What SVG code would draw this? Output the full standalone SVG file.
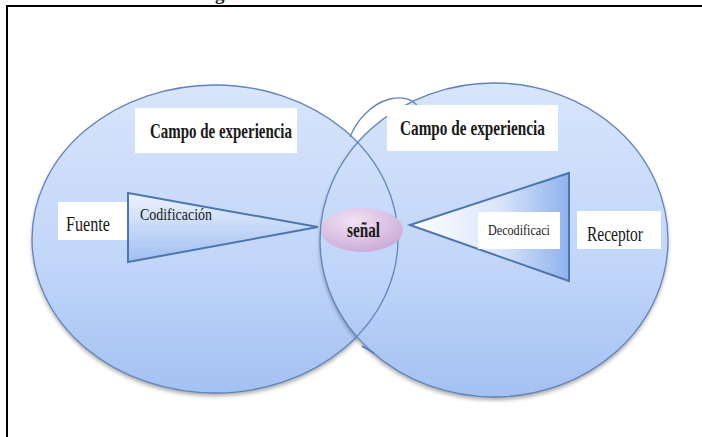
<svg xmlns="http://www.w3.org/2000/svg" width="702" height="437" viewBox="0 0 702 437">
<defs>
  <linearGradient id="gCircle" x1="0" y1="0" x2="0" y2="1">
    <stop offset="0" stop-color="#d8e5fb"/>
    <stop offset="0.6" stop-color="#c0d5f9"/>
    <stop offset="1" stop-color="#a3c1f2"/>
  </linearGradient>
  <linearGradient id="gTriL" x1="0" y1="0" x2="0" y2="1">
    <stop offset="0" stop-color="#eef3fd"/>
    <stop offset="1" stop-color="#9ebef2"/>
  </linearGradient>
  <linearGradient id="gTriR" x1="0" y1="0" x2="1" y2="0">
    <stop offset="0" stop-color="#ffffff"/>
    <stop offset="0.55" stop-color="#dbe6fb"/>
    <stop offset="1" stop-color="#8fb2ee"/>
  </linearGradient>
  <radialGradient id="gSig" cx="0.4" cy="0.3" r="0.8">
    <stop offset="0" stop-color="#f1e3f4"/>
    <stop offset="1" stop-color="#c8a4d4"/>
  </radialGradient>
  <filter id="shadow" x="-10%" y="-10%" width="120%" height="125%">
    <feGaussianBlur in="SourceAlpha" stdDeviation="2"/>
    <feOffset dx="0" dy="3" result="b"/>
    <feComponentTransfer><feFuncA type="linear" slope="0.35"/></feComponentTransfer>
    <feMerge><feMergeNode/><feMergeNode in="SourceGraphic"/></feMerge>
  </filter>
  <style>
    .outline { fill: none; stroke: #6184bb; stroke-width: 1.3; }
    .tri { stroke: #4d76ae; stroke-width: 2; stroke-linejoin: miter; }
    .box { fill: #ffffff; }
    .serif { font-family: "Liberation Serif", "Times New Roman", serif; fill: #1a1a1a; }
    .bold { font-weight: bold; }
  </style>
</defs>

<rect width="702" height="437" fill="#ffffff"/>

<!-- frame -->
<g id="frame">
  <text class="serif bold" x="198" y="-0.5" font-size="19">Figura 3. Modelo de Schramm</text>
  <line x1="7" y1="6" x2="702" y2="6" stroke="#000" stroke-width="2"/>
  <line x1="7" y1="5" x2="7" y2="437" stroke="#000" stroke-width="2"/>
</g>

<!-- fields of experience -->
<g id="campo-izq">
  <ellipse cx="215" cy="239" rx="183" ry="154" fill="url(#gCircle)" filter="url(#shadow)"/>
</g>
<g id="campo-der">
  <ellipse cx="494" cy="240" rx="174" ry="157" fill="url(#gCircle)" filter="url(#shadow)"/>
</g>
<g id="outlines">
  <ellipse class="outline" cx="215" cy="239" rx="183" ry="154"/>
  <ellipse class="outline" cx="494" cy="240" rx="174" ry="157"/>
  <path class="outline" d="M350,137 C356,122 370,104 390,99 C402,96 413,99 418,107"/>
  <path d="M362,346 L374,353" stroke="#5a7db5" stroke-width="2" fill="none"/>
</g>

<g id="label-campo-izq">
  <rect class="box" x="135" y="108" width="162" height="45"/>
  <text class="serif bold" x="150" y="138" font-size="21" textLength="142" lengthAdjust="spacingAndGlyphs">Campo de experiencia</text>
</g>
<g id="label-campo-der">
  <rect class="box" x="387" y="105" width="171" height="46"/>
  <text class="serif bold" x="400" y="135" font-size="21" textLength="145" lengthAdjust="spacingAndGlyphs">Campo de experiencia</text>
</g>

<!-- source -->
<g id="fuente">
  <rect class="box" x="58" y="202" width="69" height="38"/>
  <text class="serif" x="66" y="231" font-size="20" textLength="44" lengthAdjust="spacingAndGlyphs">Fuente</text>
</g>

<!-- encoding -->
<g id="codificacion">
  <polygon class="tri" points="128,193 318,227 128,262" fill="url(#gTriL)"/>
  <text class="serif" x="140" y="220" font-size="17" textLength="72" lengthAdjust="spacingAndGlyphs">Codificación</text>
</g>

<!-- signal -->
<g id="senal">
  <ellipse cx="362" cy="230" rx="41" ry="22" fill="url(#gSig)"/>
  <text class="serif bold" x="347" y="237" font-size="20" textLength="33" lengthAdjust="spacingAndGlyphs">señal</text>
</g>

<!-- decoding -->
<g id="decodificacion">
  <polygon class="tri" points="410,225 569,173 569,281" fill="url(#gTriR)"/>
  <rect class="box" x="478" y="212" width="82" height="37"/>
  <text class="serif" x="488" y="235" font-size="15" textLength="62" lengthAdjust="spacingAndGlyphs">Decodificaci</text>
</g>

<!-- receiver -->
<g id="receptor">
  <rect class="box" x="577" y="211" width="84" height="38"/>
  <text class="serif" x="587" y="241" font-size="20" textLength="56" lengthAdjust="spacingAndGlyphs">Receptor</text>
</g>
</svg>
